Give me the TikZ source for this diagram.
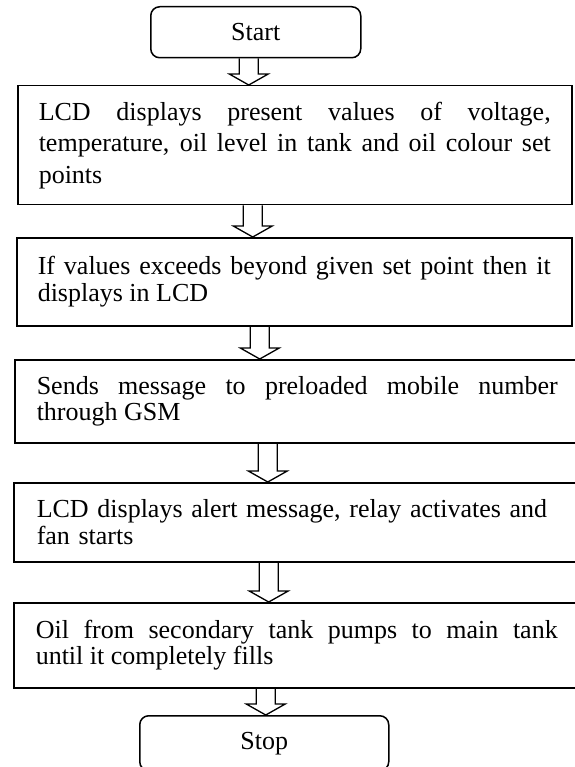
\documentclass[tikz,border=0pt]{standalone}
\usepackage{fontspec}
\setmainfont{Liberation Serif}
\usetikzlibrary{calc}

\tikzset{
  paso/.style={draw, line width=1.5pt, anchor=north west, inner xsep=21pt, align=justify,
    font=\fontsize{26}{26.5}\selectfont},
  extremo/.style={draw, line width=1.5pt, rounded corners=9pt, anchor=north west,
    font=\fontsize{26}{27}\selectfont},
  flecha/.style={draw, line width=1.3pt, to path={let \p1=(\tikztostart), \p2=(\tikztotarget) in
    (\x1-9.5pt,\y1) -- (\x1-9.5pt,\y2+11pt) -- (\x1-19.5pt,\y2+11pt) -- (\x1,\y2)
    -- (\x1+19.5pt,\y2+11pt) -- (\x1+9.5pt,\y2+11pt) -- (\x1+9.5pt,\y1)}}
}

\begin{document}
\begin{tikzpicture}[x=1pt,y=-1pt]
    \useasboundingbox (0,0) rectangle (574,767);

    % Inicio
    \node[extremo, minimum width=210pt, minimum height=51pt] (inicio) at (150,6) {Start};

    % Pasos
    \node[paso, text width=512pt, minimum height=119pt, font=\fontsize{26}{31.5}\selectfont] (lcd) at (17,85)
      {LCD displays present values of voltage,\linebreak temperature, oil level in tank and oil colour set\linebreak points};
    \node[paso, text width=513pt, minimum height=88pt] (limite) at (16,237)
      {If values exceeds beyond given set point then it\linebreak displays in LCD};
    \node[paso, inner xsep=22pt, text width=521pt, minimum height=83pt] (gsm) at (14,359)
      {Sends message to preloaded mobile number\linebreak through GSM};
    \node[paso, inner xsep=23pt, text width=530pt, minimum height=79pt, align=left] (alerta) at (13,482)
      {LCD displays alert message, relay activates and\\ fan starts};
    \node[paso, inner xsep=22pt, text width=522pt, minimum height=85pt] (bomba) at (13,602)
      {Oil from secondary tank pumps to main tank\linebreak until it completely fills};

    % Fin
    \node[extremo, minimum width=249pt, minimum height=55pt] (fin) at (139,715) {Stop};

    % Flechas
    \draw[flecha] ([xshift=-7pt]inicio.south) to (lcd.north);
    \draw[flecha] ([xshift=-42pt]lcd.south) to (limite.north);
    \draw[flecha] ([xshift=-34.5pt]limite.south) to (gsm.north);
    \draw[flecha] ([xshift=-29.5pt]gsm.south) to (alerta.north);
    \draw[flecha] ([xshift=-33pt]alerta.south) to (bomba.north);
    \draw[flecha] ([xshift=-31pt]bomba.south) to (fin.north);

\end{tikzpicture}
\end{document}
